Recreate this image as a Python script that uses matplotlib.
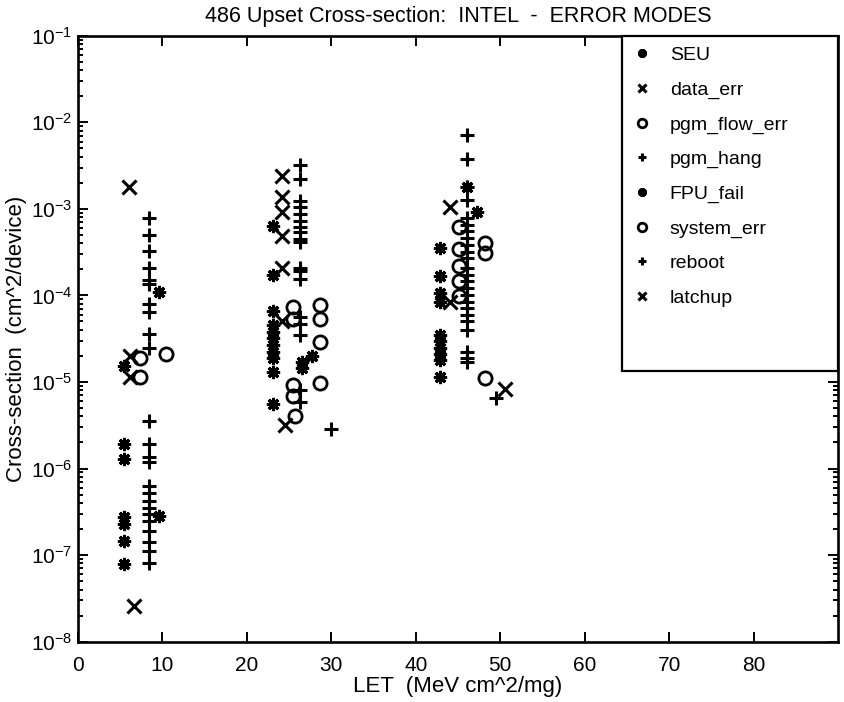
import matplotlib
matplotlib.use('Agg')
import matplotlib.pyplot as plt
from matplotlib.lines import Line2D
from matplotlib.ticker import LogLocator, NullFormatter

plt.rcParams['font.family'] = ['Liberation Sans', 'DejaVu Sans']
plt.rcParams['mathtext.default'] = 'regular'

# LET (MeV cm^2/mg) and cross-section (cm^2/device) per error mode
seu_let = [5.4] * 7 + [23.1] * 11 + [42.9] * 10
seu_cs = [1.55e-5, 1.9e-6, 1.3e-6, 2.75e-7, 2.3e-7, 1.45e-7, 7.9e-8,
          6.3e-4, 1.7e-4, 6.6e-5, 4.6e-5, 3.8e-5, 3.2e-5, 2.7e-5, 2.2e-5, 1.9e-5, 1.3e-5, 5.5e-6,
          3.5e-4, 1.66e-4, 1.07e-4, 8.5e-5, 3.5e-5, 3.0e-5, 2.5e-5, 2.1e-5, 1.8e-5, 1.13e-5]

data_err_let = [6.2, 6.2, 24.2, 24.2, 24.2, 24.2, 24.2, 24.2, 44.0, 44.1]
data_err_cs = [2.0e-5, 1.15e-5, 2.4e-3, 1.36e-3, 9.1e-4, 4.9e-4, 2.1e-4, 5.0e-5, 1.05e-3, 8.5e-5]

flow_let = [7.3, 7.3, 25.5, 25.5, 25.5, 25.5, 25.7]
flow_cs = [1.9e-5, 1.15e-5, 7.4e-5, 5.4e-5, 9.3e-6, 6.8e-6, 4.0e-6]

hang_let = [8.35] * 12 + [26.3] * 10 + [46.1] * 12
hang_cs = [7.8e-4, 5.0e-4, 3.3e-4, 2.1e-4, 1.5e-4, 1.35e-4, 7.9e-5, 6.5e-5, 3.6e-5, 2.5e-5, 3.5e-6, 1.9e-6,
           3.2e-3, 2.2e-3, 1.25e-3, 1.05e-3, 8.7e-4, 7.2e-4, 6.1e-4, 5.4e-4, 4.5e-4, 4.1e-4,
           7.1e-3, 3.8e-3, 1.8e-3, 1.26e-3, 7.8e-4, 6.5e-4, 5.5e-4, 4.6e-4, 3.8e-4, 3.2e-4, 2.7e-4, 2.1e-4]

fpu_let = [9.6, 9.6, 27.7, 26.5, 26.5, 46.1, 47.2]
fpu_cs = [1.1e-4, 2.8e-7, 2.0e-5, 1.7e-5, 1.45e-5, 1.8e-3, 9.3e-4]

sys_let = [10.4, 28.6, 28.6, 28.6, 28.6, 45.1, 45.1, 45.1, 45.1, 45.1, 48.2, 48.2, 48.2]
sys_cs = [2.1e-5, 7.8e-5, 5.4e-5, 2.9e-5, 9.8e-6, 6.2e-4, 3.4e-4, 2.2e-4, 1.47e-4, 9.8e-5, 4.0e-4, 3.1e-4, 1.12e-5]

reboot_let = [8.35] * 12 + [26.3] * 8 + [29.9] + [46.1] * 12 + [49.5]
reboot_cs = [1.35e-6, 1.2e-6, 6.3e-7, 5.2e-7, 4.2e-7, 3.5e-7, 3.0e-7, 2.5e-7, 1.9e-7, 1.4e-7, 1.1e-7, 8.1e-8,
             2.1e-4, 1.9e-4, 1.55e-4, 5.6e-5, 4.7e-5, 3.5e-5, 8.1e-6, 5.9e-6,
             2.9e-6,
             1.74e-4, 1.45e-4, 1.23e-4, 1.02e-4, 8.5e-5, 7.2e-5, 6.0e-5, 5.0e-5, 4.0e-5, 2.2e-5, 1.9e-5, 1.7e-5,
             6.6e-6]

latch_let = [6.0, 6.6, 24.5, 50.6]
latch_cs = [1.8e-3, 2.6e-8, 3.2e-6, 8.3e-6]

fig = plt.figure(figsize=(8.44, 7.02), dpi=100)
ax = fig.add_axes([0.0924, 0.086, 0.9006, 0.863])

ast = (8, 2, 0)
k = 'black'
ax.plot(seu_let, seu_cs, ls='none', marker=ast, ms=9.5, mew=2.2, color=k, label='SEU')
ax.plot(data_err_let, data_err_cs, ls='none', marker='x', ms=9.5, mew=2.2, color=k, label='data_err')
ax.plot(flow_let, flow_cs, ls='none', marker='o', ms=9.5, mew=2.0, mfc='none', color=k, label='pgm_flow_err')
ax.plot(hang_let, hang_cs, ls='none', marker='+', ms=9.5, mew=2.2, color=k, label='pgm_hang')
ax.plot(fpu_let, fpu_cs, ls='none', marker=ast, ms=9.5, mew=2.2, color=k, label='FPU_fail')
ax.plot(sys_let, sys_cs, ls='none', marker='o', ms=9.5, mew=2.0, mfc='none', color=k, label='system_err')
ax.plot(reboot_let, reboot_cs, ls='none', marker='+', ms=9.5, mew=2.2, color=k, label='reboot')
ax.plot(latch_let, latch_cs, ls='none', marker='x', ms=9.5, mew=2.2, color=k, label='latchup')

ax.set_yscale('log')
ax.set_xlim(0, 90)
ax.set_ylim(1e-8, 1e-1)
ax.set_xticks([0, 10, 20, 30, 40, 50, 60, 70, 80])
ax.yaxis.set_major_locator(LogLocator(base=10, numticks=10))
ax.yaxis.set_minor_locator(LogLocator(base=10, subs=range(2, 10), numticks=20))
ax.yaxis.set_minor_formatter(NullFormatter())
ax.tick_params(which='both', direction='in', top=True, right=True, labelsize=15, width=1.4)
ax.tick_params(which='major', length=7)
ax.tick_params(which='minor', length=3.5)
ax.tick_params(axis='x', pad=10)
ax.tick_params(axis='y', pad=4)
for s in ax.spines.values():
    s.set_linewidth(1.9)

ax.set_title('486 Upset Cross-section:  INTEL  -  ERROR MODES', fontsize=15.5, pad=10)
ax.set_xlabel('LET  (MeV cm^2/mg)', fontsize=16, labelpad=1)
ax.set_ylabel('Cross-section  (cm^2/device)', fontsize=16, labelpad=3)

handles, labels = ax.get_legend_handles_labels()
handles.append(Line2D([], [], ls='none', marker='none'))
labels.append(' \n ')
left = (622 - 78) / 760
leg = ax.legend(handles, labels, loc='upper left', bbox_to_anchor=(left, 0, 1 - left, 1),
                mode='expand', borderaxespad=0, fancybox=False,
                edgecolor='black', framealpha=1, fontsize=14, labelspacing=0.87,
                handlelength=1.0, handletextpad=0.9, borderpad=0.55, markerscale=0.65)
leg.get_frame().set_linewidth(1.6)

fig.savefig('out.png', dpi=100)
